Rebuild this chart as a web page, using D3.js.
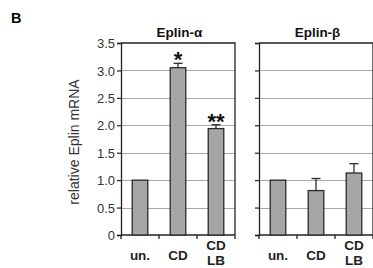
<!DOCTYPE html>
<html>
<head>
  <style>
    body{ margin:0; background:#fff; font-family:"Liberation Sans", Arial, sans-serif; }
    .grid{ stroke:#a8a8a8; stroke-width:1px; }
    .frame{ stroke:#222; stroke-width:1.3px; fill:none; }
    .bar{ fill:#a6a6a6; stroke:#2a2a2a; stroke-width:1.3px; }
    .err{ stroke:#2a2a2a; stroke-width:1.3px; fill:none; }
    .tick-label{ font-size:13px; fill:#333; }
    .cat-label{ font-size:13.5px; font-weight:bold; fill:#222; }
    .panel-title{ font-size:13.5px; font-weight:bold; fill:#111; }
    .star{ font-size:22px; font-weight:bold; fill:#111; }
  </style>
  <script src="https://d3js.org/d3.v7.min.js"></script>
</head>
<body>
<div class="chart"></div>
<script>
const categories = ['un.', 'CD', 'CD\nLB'];
const alphaValues = [1.0, 3.05, 1.94];
const alphaErrors = [0, 0.08, 0.07];
const alphaStars = ['', '*', '**'];
const betaValues = [1.0, 0.81, 1.13];
const betaErrors = [0, 0.22, 0.17];
const betaStars = ['', '', ''];
const yTicks = [0, 0.5, 1.0, 1.5, 2.0, 2.5, 3.0, 3.5];
const yTickLabels = ['0', '0.5', '1.0', '1.5', '2.0', '2.5', '3.0', '3.5'];
const panelTitles = ['Eplin-\u03b1', 'Eplin-\u03b2'];

const width = 373, height = 268;

const svg = d3.select('.chart').append('svg')
  .attr('width', width)
  .attr('height', height);

const y = d3.scaleLinear().domain([0, 3.5]).range([235, 43]);

// panel letter
svg.append('text')
  .attr('x', 11).attr('y', 23)
  .style('font-size', '14.5px').style('font-weight', 'bold')
  .text('B');

// y axis label
svg.append('text')
  .attr('transform', 'translate(79,' + (y(1.75) + 3) + ') rotate(-90)')
  .attr('text-anchor', 'middle')
  .style('font-size', '14px').style('fill', '#333')
  .text('relative Eplin mRNA');

function drawPanel(x0, x1, values, errors, stars, title, showLabels){
  const x = d3.scaleBand().domain(categories).range([x0, x1]).padding(0);
  const g = svg.append('g');

  // grid lines
  g.selectAll('.grid').data(yTicks.filter(t => t > 0 && t < 3.5))
    .join('line')
    .attr('class', 'grid')
    .attr('x1', x0).attr('x2', x1)
    .attr('y1', d => Math.round(y(d)) + 0.5).attr('y2', d => Math.round(y(d)) + 0.5);

  // frame: top + right
  g.append('path').attr('class', 'frame')
    .attr('d', `M${x0},${y(3.5)}H${x1}V${y(0)}`);

  // y axis
  const yAxis = d3.axisLeft(y).tickValues(yTicks).tickSize(4)
    .tickFormat((d, i) => showLabels ? yTickLabels[i] : '');
  const ya = g.append('g').attr('transform', `translate(${x0},0)`).call(yAxis);
  ya.select('.domain').attr('stroke', '#222').attr('stroke-width', 1.3);
  ya.selectAll('.tick line').attr('stroke', '#222').attr('stroke-width', 1.2);
  ya.selectAll('.tick text').attr('class', 'tick-label').attr('x', -6).attr('dy', '0.36em');
  ya.attr('font-family', null).attr('font-size', null);

  // x axis line and ticks at band edges
  g.append('line').attr('class', 'frame')
    .attr('x1', x0).attr('x2', x1).attr('y1', y(0)).attr('y2', y(0));
  const edges = categories.map(c => x(c)).concat([x1]);
  g.selectAll('.xtick').data(edges).join('line')
    .attr('class', 'frame')
    .attr('x1', d => d).attr('x2', d => d)
    .attr('y1', y(0)).attr('y2', y(0) + 4);

  const bw = x.bandwidth() * 0.41;
  const cx = c => x(c) + x.bandwidth() / 2;

  // error bars (upper only)
  categories.forEach((c, i) => {
    if (errors[i] > 0) {
      const top = y(values[i] + errors[i]);
      g.append('line').attr('class', 'err')
        .attr('x1', cx(c)).attr('x2', cx(c))
        .attr('y1', y(values[i])).attr('y2', top);
      g.append('line').attr('class', 'err')
        .attr('x1', cx(c) - 4.5).attr('x2', cx(c) + 4.5)
        .attr('y1', top).attr('y2', top);
    }
  });

  // bars
  g.selectAll('.bar').data(values).join('rect')
    .attr('class', 'bar')
    .attr('x', (d, i) => cx(categories[i]) - bw / 2)
    .attr('width', bw)
    .attr('y', d => y(d))
    .attr('height', d => y(0) - y(d));

  // significance stars
  g.selectAll('.star').data(stars).join('text')
    .attr('class', 'star')
    .attr('text-anchor', 'middle')
    .attr('x', (d, i) => cx(categories[i]))
    .attr('y', (d, i) => y(values[i] + errors[i]) + 4)
    .text(d => d);

  // category labels
  categories.forEach((c, i) => {
    const lines = c.split('\n');
    const base = lines.length > 1 ? 250 : 259.5;
    lines.forEach((l, j) => {
      g.append('text').attr('class', 'cat-label')
        .attr('text-anchor', 'middle')
        .attr('x', cx(c))
        .attr('y', base + j * 14.5)
        .text(l);
    });
  });

  // title
  g.append('text').attr('class', 'panel-title')
    .attr('text-anchor', 'middle')
    .attr('x', (x0 + x1) / 2 + 1.5)
    .attr('y', 36.5)
    .text(title);
}

drawPanel(121, 235, alphaValues, alphaErrors, alphaStars, panelTitles[0], true);
drawPanel(259, 373, betaValues, betaErrors, betaStars, panelTitles[1], false);
</script>
</body>
</html>
